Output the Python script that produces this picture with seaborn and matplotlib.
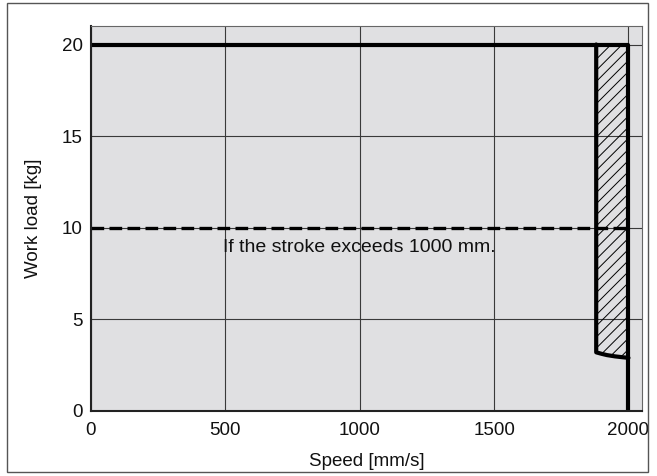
import matplotlib
matplotlib.use("Agg")
import matplotlib.pyplot as plt
import seaborn as sns
import pandas as pd
from matplotlib.patches import Rectangle

# Allowable work load envelope (speed in mm/s, load in kg)
env_speed = [0, 2000, 2000]
env_load = [20, 20, 0]

# High-speed region boundary (left edge and lower curve)
hs_speed = [1880, 1880, 1900, 1920, 1950, 1980, 2000]
hs_load = [20, 3.2, 3.12, 3.05, 2.98, 2.93, 2.9]

# Long-stroke limit
stroke_speed = [0, 2000]
stroke_load = [10, 10]

x_ticks = [0, 500, 1000, 1500, 2000]
y_ticks = [0, 5, 10, 15, 20]

sns.set_theme(style="white")
plt.rcParams["font.family"] = ["Liberation Sans", "DejaVu Sans"]
plt.rcParams["hatch.linewidth"] = 0.7

fig = plt.figure(figsize=(6.57, 4.76), dpi=100)
ax = fig.add_axes([0.1385, 0.1366, 0.977 - 0.1385, 0.945 - 0.1366])
ax.set_facecolor("#e0e0e2")

# outer frame around the figure
fig.patches.append(Rectangle((0.011, 0.008), 0.975, 0.985, transform=fig.transFigure,
                             fill=False, edgecolor="#555555", linewidth=1.0))

# hatched high-speed zone
hs_df = pd.DataFrame({"speed": hs_speed, "load": hs_load})
ax.fill_between(hs_df["speed"][1:], hs_df["load"][1:], 20, facecolor="none",
                edgecolor="black", hatch="///", linewidth=0)

env_df = pd.DataFrame({"speed": env_speed, "load": env_load})
sns.lineplot(data=env_df, x="speed", y="load", sort=False, color="black",
             linewidth=3.0, ax=ax, estimator=None)
sns.lineplot(data=hs_df, x="speed", y="load", sort=False, color="black",
             linewidth=3.0, ax=ax, estimator=None)
st_df = pd.DataFrame({"speed": stroke_speed, "load": stroke_load})
sns.lineplot(data=st_df, x="speed", y="load", sort=False, color="black",
             linewidth=2.4, ax=ax, estimator=None)
ax.lines[-1].set_dashes([3.8, 1.6])

ax.text(1000, 8.9, "If the stroke exceeds 1000 mm.", ha="center", va="center",
        fontsize=14, color="#111111")

ax.set_xlim(0, 2050)
ax.set_ylim(0, 21)
ax.set_xticks(x_ticks)
ax.set_yticks(y_ticks)
ax.set_xticklabels([str(v) for v in x_ticks], fontsize=13.5)
ax.set_yticklabels([str(v) for v in y_ticks], fontsize=13.5)
ax.tick_params(axis="both", direction="out", length=3, width=1, color="#333333",
               labelcolor="#111111")
ax.tick_params(axis="x", pad=5)
ax.tick_params(axis="y", pad=3)
ax.grid(True, color="#3a3a3a", linewidth=0.8)
ax.set_axisbelow(True)
for side in ["top", "right"]:
    ax.spines[side].set_color("#666666")
    ax.spines[side].set_linewidth(0.8)
for side in ["left", "bottom"]:
    ax.spines[side].set_color("#222222")
    ax.spines[side].set_linewidth(1.5)

ax.set_xlabel("Speed [mm/s]", fontsize=13.5, color="#111111", labelpad=10)
ax.set_ylabel("Work load [kg]", fontsize=13.5, color="#111111", labelpad=14)

fig.savefig("out.png", dpi=100, facecolor="white")
